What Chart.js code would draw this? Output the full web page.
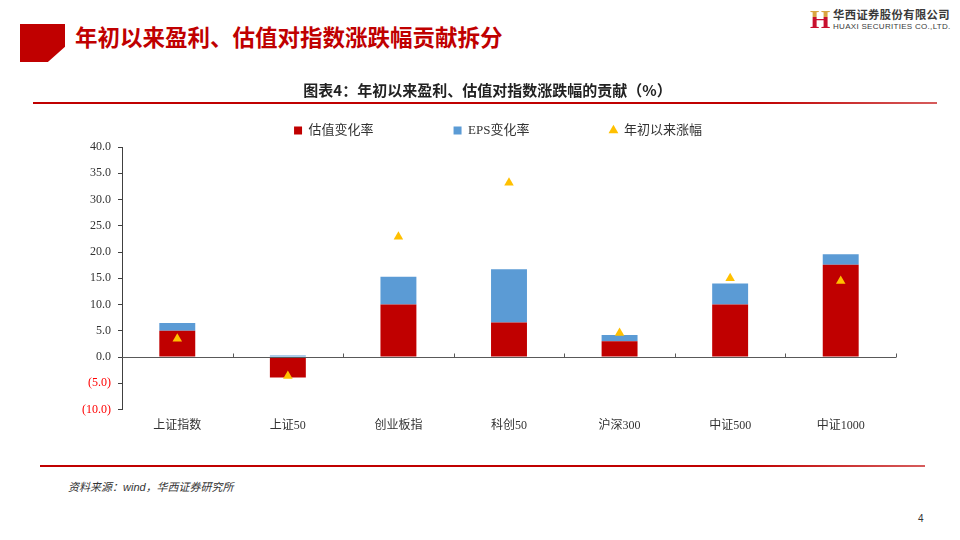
<!DOCTYPE html>
<html lang="zh-CN">
<head>
<meta charset="utf-8">
<title>年初以来盈利、估值对指数涨跌幅贡献拆分</title>
<script src="https://cdn.jsdelivr.net/npm/chart.js@4.4.1/dist/chart.umd.min.js"></script>
<style>
  html, body { margin: 0; padding: 0; background: #fff; }
  #page { position: relative; width: 960px; height: 540px; overflow: hidden; font-family: "Noto Sans CJK SC", sans-serif; }
  .mark { position: absolute; left: 20px; top: 24px; width: 45px; height: 38px; background: #C00000;
          clip-path: polygon(0 0, 100% 0, 100% 60%, 62% 100%, 0 100%); }
  .title { position: absolute; left: 75px; top: 20px; font-size: 22.5px; font-weight: 700; color: #C00000; line-height: 32px; }
  .logo-h { position: absolute; left: 810px; top: 6px; font-family: "Liberation Serif", serif; font-weight: 700; font-size: 26px; line-height: 27px;
            background: linear-gradient(#D9A441 0%, #D9A441 42%, #C8102E 42%, #C8102E 100%); -webkit-background-clip: text; color: transparent; }
  .logo-cn { position: absolute; left: 833px; top: 6px; font-size: 11.3px; font-weight: 700; color: #3a3a3a; letter-spacing: 0.4px; line-height: 16px; }
  .logo-en { position: absolute; left: 833px; top: 22px; font-family: "Liberation Sans", sans-serif; font-size: 8px; color: #3a3a3a; letter-spacing: 0.3px; line-height: 10px; }
  .chart-title { position: absolute; left: 0; width: 975px; top: 80px; text-align: center; font-size: 15px; font-weight: 700; color: #222; line-height: 20px; z-index: 2; }
  .rule { position: absolute; height: 2px; background: linear-gradient(to right, #C00000, #C00000 80%, #D65C5C); }
  .rule.top { left: 33px; width: 904px; top: 102px; }
  .rule.bottom { left: 40px; width: 885px; top: 465px; }
  .source { position: absolute; left: 68px; top: 478px; font-size: 11px; font-style: italic; color: #333; line-height: 16px; }
  .source .en { font-family: "Liberation Sans", sans-serif; }
  .pageno { position: absolute; left: 918px; top: 513px; font-family: "Liberation Sans", sans-serif; font-size: 10px; color: #333; }
  #wrap { position: absolute; left: 60px; top: 44px; width: 850px; height: 398px; z-index: 1; }
</style>
</head>
<body>
<div id="page">
  <div class="mark"></div>
  <div class="title">年初以来盈利、估值对指数涨跌幅贡献拆分</div>
  <div class="logo-h">H</div>
  <div class="logo-cn">华西证券股份有限公司</div>
  <div class="logo-en">HUAXI SECURITIES CO.,LTD.</div>
  <div class="chart-title">图表4：年初以来盈利、估值对指数涨跌幅的贡献（%）</div>
  <div class="rule top"></div>
  <div id="wrap"><canvas id="chart"></canvas></div>
  <div class="rule bottom"></div>
  <div class="source">资料来源：<span class="en">wind</span>，华西证券研究所</div>
  <div class="pageno">4</div>
</div>
<script>
const categories = ['上证指数', '上证50', '创业板指', '科创50', '沪深300', '中证500', '中证1000'];
const valuationChange = [5.0, -3.9, 10.0, 6.6, 3.0, 10.0, 17.6];
const epsChange = [1.5, 0.3, 5.3, 10.1, 1.2, 4.0, 2.0];
const ytdReturn = [3.5, -3.6, 22.9, 33.2, 4.6, 15.0, 14.5];
const yMin = -10;
const yMax = 40;
const yStep = 5;

const FONT = '"Liberation Serif", "Noto Sans CJK SC", serif';

function fmtTick(v) {
  return v < 0 ? `(${(-v).toFixed(1)})` : v.toFixed(1);
}

// zero line with inside tick marks between categories (Excel style)
const zeroAxis = {
  id: 'zeroAxis',
  afterDatasetsDraw(chart) {
    const { ctx, chartArea, scales: { x, y } } = chart;
    const y0 = Math.round(y.getPixelForValue(0)) + 0.5;
    ctx.save();
    ctx.strokeStyle = '#595959';
    ctx.lineWidth = 1;
    ctx.beginPath();
    ctx.moveTo(chartArea.left, y0);
    ctx.lineTo(chartArea.right, y0);
    for (let i = 1; i <= categories.length; i++) {
      const px = Math.round(x.getPixelForValue(i - 0.5)) + 0.5;
      ctx.moveTo(px, y0);
      ctx.lineTo(px, y0 - 4);
    }
    ctx.stroke();
    ctx.restore();
  }
};

// legend sits a little right of the canvas centre in the original
const legendShift = {
  id: 'legendShift',
  afterLayout(chart) {
    chart.legend.left += 20;
    chart.legend.right += 20;
  }
};

new Chart(document.getElementById('chart'), {
  data: {
    labels: categories,
    datasets: [
      { type: 'bar', label: '估值变化率', data: valuationChange, backgroundColor: '#C00000', stack: 'bars', order: 2,
        pointStyle: 'rect', barPercentage: 0.5, categoryPercentage: 0.65 },
      { type: 'bar', label: 'EPS变化率', data: epsChange, backgroundColor: '#5B9BD5', stack: 'bars', order: 2,
        pointStyle: 'rect', barPercentage: 0.5, categoryPercentage: 0.65 },
      { type: 'line', label: '年初以来涨幅', data: ytdReturn, stack: 'ytd', order: 1, showLine: false,
        pointStyle: 'triangle', pointRadius: 5.5, pointBorderWidth: 0,
        backgroundColor: '#FFC000', borderColor: '#FFC000' }
    ]
  },
  options: {
    responsive: true,
    maintainAspectRatio: false,
    animation: false,
    layout: { padding: { right: 14 } },
    plugins: {
      tooltip: { enabled: false },
      legend: {
        position: 'top',
        labels: {
          usePointStyle: true,
          boxWidth: 8,
          boxHeight: 8,
          padding: 80,
          color: '#333',
          font: { family: FONT, size: 13 },
          sort: (a, b) => a.datasetIndex - b.datasetIndex
        }
      }
    },
    scales: {
      x: {
        stacked: true,
        grid: { display: false, drawTicks: false },
        border: { display: false },
        ticks: { color: '#333', padding: 9, font: { family: FONT, size: 12 } }
      },
      y: {
        stacked: true,
        min: yMin,
        max: yMax,
        afterFit: (s) => { s.width = 62; },
        ticks: {
          stepSize: yStep,
          padding: 7,
          font: { family: FONT, size: 12 },
          color: (c) => (c.tick.value < 0 ? '#FF0000' : '#333'),
          callback: (v) => fmtTick(v)
        },
        grid: { drawOnChartArea: false, drawTicks: true, tickLength: 4, color: '#404040' },
        border: { display: true, color: '#404040' }
      }
    }
  },
  plugins: [zeroAxis, legendShift]
});
</script>
</body>
</html>
